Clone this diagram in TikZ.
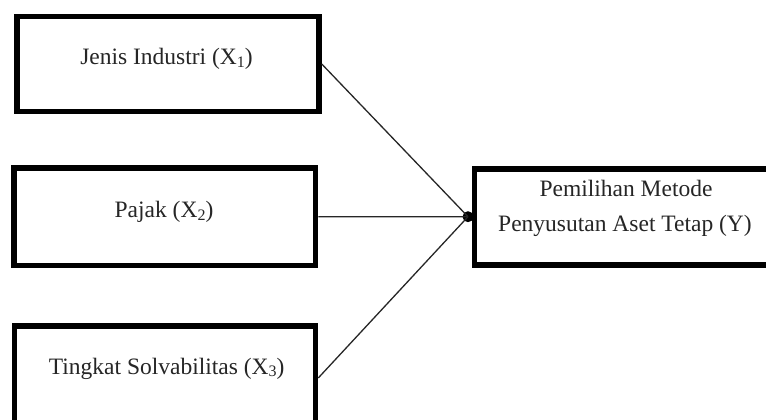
\documentclass[tikz,border=0pt]{standalone}
\usepackage{fontspec}
\setmainfont{Liberation Serif}
\newcommand{\lowsub}[1]{\raisebox{-0.25ex}{\fontsize{16}{16}\selectfont #1}}
\begin{document}
\begin{tikzpicture}[x=1pt,y=-1pt,
  varbox/.style={draw=black, line width=5.5pt, rectangle, inner sep=0pt, fill=white},
  lbl/.style={font=\fontsize{23.5}{28}\selectfont, inner sep=0pt, anchor=base, text=black!85},
  conn/.style={draw=black!85, line width=1.3pt},
  joint/.style={circle, fill=black, inner sep=0pt, minimum size=11pt}]
\useasboundingbox (0,0) rectangle (766,420);
\clip (0,0) rectangle (766,420);
\node[varbox, minimum width=302pt, minimum height=95pt] (b1) at (168,64) {};
\node[varbox, minimum width=301.5pt, minimum height=97.5pt] (b2) at (164.75,216.75) {};
\node[varbox, minimum width=301pt, minimum height=104pt] (b3) at (165,378) {};
\node[varbox, minimum width=304.5pt, minimum height=96pt] (by) at (626.75,217) {};
\node[lbl] (t1) at (166.5,65) {Jenis Industri (X\lowsub{1})};
\node[lbl] (t2) at (164,217.5) {Pajak (X\lowsub{2})};
\node[lbl] (t3) at (166.7,374) {Tingkat Solvabilitas (X\lowsub{3})};
\node[lbl] (ty1) at (626,196.7) {Pemilihan Metode};
\node[lbl] (ty2) at (625,231.7) {Penyusutan Aset Tetap (Y)};
\node[joint] (j) at (468,216.7) {};
\draw[conn] (b1.east) -- (j.center);
\draw[conn] (b2.east) -- (j.center);
\draw[conn] (b3.east) -- (j.center);
\end{tikzpicture}
\end{document}
